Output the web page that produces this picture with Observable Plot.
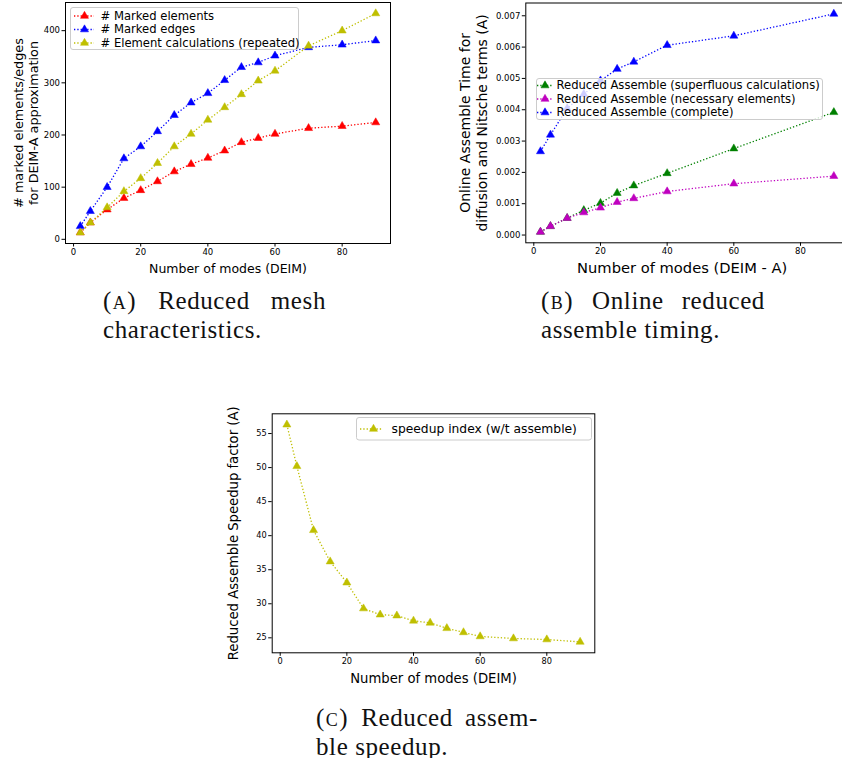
<!DOCTYPE html>
<html><head><meta charset="utf-8">
<script src="https://cdn.jsdelivr.net/npm/d3@7"></script>
<script src="https://cdn.jsdelivr.net/npm/@observablehq/plot@0.6"></script>
<style>
html,body{margin:0;padding:0;background:#fff;width:842px;height:758px;overflow:hidden;position:relative;}
.cap{position:absolute;font-family:"Liberation Serif",serif;font-size:25px;letter-spacing:0.6px;color:#111;line-height:29px;}
.cap .j{white-space:nowrap;display:flex;justify-content:space-between;}
.sc{font-variant:small-caps;letter-spacing:1.5px;}
</style></head><body>
<script>
// ---------------- data ----------------
const modesA = [2,5,10,15,20,25,30,35,40,45,50,55,60,70,80,90];
const markedElements = [13,32,57,79,94,111,130,144,156,170,186,194,202,213,217,224];
const markedEdges    = [25,54,100,155,178,207,238,262,280,305,330,339,352,368,373,381];
const elementCalcs   = [13,32,61,92,117,146,178,202,229,253,278,304,323,371,400,433];

const modesB = [2,5,10,15,20,25,30,40,60,90];
const superfluous = [0.0001,0.00028,0.00054,0.00079,0.00102,0.00134,0.00158,0.00197,0.00276,0.00392];
const necessary   = [0.0001,0.00028,0.00054,0.00072,0.00087,0.00105,0.00117,0.00139,0.00164,0.00188];
const complete    = [0.00267,0.0032,0.00404,0.0045,0.00493,0.0053,0.00553,0.00606,0.00636,0.00706];

const modesC = [2,5,10,15,20,25,30,35,40,45,50,55,60,70,80,90];
const speedup = [56.3,50.2,40.8,36.2,33.1,29.3,28.4,28.26,27.5,27.2,26.4,25.8,25.2,24.9,24.75,24.4];

const xTicks = [0,20,40,60,80];
const yTicksA = [0,100,200,300,400];
const yTicksB = [0,0.001,0.002,0.003,0.004,0.005,0.006,0.007];
const yTicksC = [25,30,35,40,45,50,55];

const labelsA = ["# Marked elements", "# Marked edges", "# Element calculations (repeated)"];
const labelsB = ["Reduced Assemble (superfluous calculations)", "Reduced Assemble (necessary elements)", "Reduced Assemble (complete)"];
const labelsC = ["speedup index (w/t assemble)"];

const RED = "#ff0000", BLUE = "#0000ff", YEL = "#bfbf00", GRN = "#008000", MAG = "#bf00bf";
const FONT = "DejaVu Sans";
const dotted = {strokeWidth: 1.3, strokeDasharray: "1.3,2", strokeLinecap: "butt"};

// ---------------- helpers ----------------
function place(el, left, top) {
  el.style.position = "absolute";
  el.style.left = left + "px";
  el.style.top = top + "px";
  document.body.appendChild(el);
}

function seriesMarks(xs, ys, color) {
  const data = xs.map((x, i) => ({x, y: ys[i]}));
  return [
    Plot.line(data, {x: "x", y: "y", stroke: color, ...dotted}),
    Plot.dot(data, {x: "x", y: "y", symbol: "triangle", r: 3, fill: color, stroke: color, strokeWidth: 0.5})
  ];
}

function panel(o) {
  const svg = Plot.plot({
    width: o.width, height: o.height,
    marginLeft: o.ml, marginRight: o.mr, marginTop: o.mt, marginBottom: o.mb,
    x: {domain: [-2.4, 94.4]},
    y: {domain: o.yDomain},
    style: {fontFamily: FONT, fontSize: o.tickSize + "px", color: "#000", background: "transparent", overflow: "visible"},
    marks: [
      ...o.series.flatMap(s => seriesMarks(s.x, s.y, s.color)),
      Plot.frame({stroke: "#000", strokeWidth: 1}),
      Plot.axisX({ticks: xTicks, tickSize: 3.5, tickPadding: 2, label: null}),
      Plot.axisY({ticks: o.yTicks, tickSize: 3.5, tickPadding: 2, tickFormat: o.yFormat, label: null}),
      Plot.text([o.xLabel], {text: d => d, frameAnchor: "bottom", textAnchor: "middle", lineAnchor: "middle", dy: o.xLabelDy, dx: o.xLabelDx || 0, fontSize: o.xLabelSize}),
      ...o.yLabels.map(l => Plot.text([l.text], {text: d => d, frameAnchor: "left", rotate: -90, textAnchor: "middle", lineAnchor: "middle", dx: l.dx, fontSize: o.yLabelSize}))
    ]
  });
  place(svg, o.left, o.top);
}

function legendBox(o) {
  const w = o.w, h = o.h;
  const marks = [
    Plot.rect([0], {x1: () => 0.5, x2: () => w - 0.5, y1: () => 0.5, y2: () => h - 0.5, fill: "white", fillOpacity: 0.8, stroke: "#cccccc", rx: 2.5})
  ];
  o.rows.forEach(r => {
    marks.push(Plot.ruleY([r], {y: "y", x1: () => o.line[0], x2: () => o.line[1], stroke: r.color, ...dotted}));
    marks.push(Plot.dot([r], {x: () => o.markX, y: "y", symbol: "triangle", r: 3, fill: r.color, stroke: r.color, strokeWidth: 0.5}));
    marks.push(Plot.text([r], {x: () => o.textX, y: "y", text: "label", textAnchor: "start", lineAnchor: "middle", fontSize: o.fontSize}));
  });
  const svg = Plot.plot({
    width: w, height: h, margin: 0,
    x: {domain: [0, w], range: [0, w], axis: null},
    y: {domain: [0, h], range: [0, h], axis: null},
    style: {fontFamily: FONT, color: "#000", background: "transparent", overflow: "visible"},
    marks
  });
  place(svg, o.left, o.top);
}

function caption(left, top, width, line1, line2) {
  const d = document.createElement("div");
  d.className = "cap";
  d.style.left = left + "px";
  d.style.top = top + "px";
  d.style.width = width + "px";
  const l1 = document.createElement("div");
  l1.className = "j";
  line1.forEach(part => {
    const s = document.createElement("span");
    if (part.sc) { s.className = "sc"; }
    s.textContent = part.t;
    l1.appendChild(s);
  });
  const l2 = document.createElement("div");
  l2.textContent = line2;
  d.appendChild(l1); d.appendChild(l2);
  document.body.appendChild(d);
}

// ---------------- panel A ----------------
panel({
  left: 0, top: 0, width: 400, height: 280,
  ml: 65, mr: 10, mt: 2, mb: 37,
  yDomain: [-8, 454], yTicks: yTicksA, yFormat: d3.format("d"),
  tickSize: 8.5, xLabelSize: 12.5, yLabelSize: 12.8,
  series: [
    {x: modesA, y: markedElements, color: RED},
    {x: modesA, y: markedEdges, color: BLUE},
    {x: modesA, y: elementCalcs, color: YEL}
  ],
  xLabel: "Number of modes (DEIM)", xLabelDy: 25,
  yLabels: [{text: "# marked elements/edges", dx: -47}, {text: "for DEIM-A approximation", dx: -32}]
});
legendBox({
  left: 70, top: 6.5, w: 229, h: 43, fontSize: 11.6,
  line: [4, 24], markX: 14, textX: 30,
  rows: [
    {y: 8.5, color: RED, label: labelsA[0]},
    {y: 22, color: BLUE, label: labelsA[1]},
    {y: 35.5, color: YEL, label: labelsA[2]}
  ]
});

// ---------------- panel B ----------------
panel({
  left: 440, top: 0, width: 410, height: 280,
  ml: 85.3, mr: 2, mt: 2.5, mb: 37.7,
  yDomain: [-0.000248, 0.007408], yTicks: yTicksB, yFormat: d3.format(".3f"),
  tickSize: 8.5, xLabelSize: 14.7, yLabelSize: 14,
  series: [
    {x: modesB, y: superfluous, color: GRN},
    {x: modesB, y: necessary, color: MAG},
    {x: modesB, y: complete, color: BLUE}
  ],
  xLabel: "Number of modes (DEIM - A)", xLabelDy: 25, xLabelDx: -5,
  yLabels: [{text: "Online Assemble Time for", dx: -60.3}, {text: "diffusion and Nitsche terms (A)", dx: -43.6}]
});
legendBox({
  left: 536, top: 78, w: 287, h: 42, fontSize: 11.6,
  line: [1, 17], markX: 8.5, textX: 20,
  rows: [
    {y: 7, color: GRN, label: labelsB[0]},
    {y: 20.5, color: MAG, label: labelsB[1]},
    {y: 34, color: BLUE, label: labelsB[2]}
  ]
});

// ---------------- panel C ----------------
panel({
  left: 220, top: 400, width: 400, height: 290,
  ml: 51.7, mr: 25.7, mt: 13.3, mb: 37.7,
  yDomain: [22.8, 57.9], yTicks: yTicksC, yFormat: d3.format("d"),
  tickSize: 8.2, xLabelSize: 13.2, yLabelSize: 13.2,
  series: [
    {x: modesC, y: speedup, color: YEL}
  ],
  xLabel: "Number of modes (DEIM)", xLabelDy: 25.7,
  yLabels: [{text: "Reduced Assemble Speedup factor (A)", dx: -38.4}]
});
legendBox({
  left: 356, top: 416.5, w: 236, h: 23.5, fontSize: 12.3,
  line: [4, 27], markX: 17, textX: 35,
  rows: [
    {y: 11.5, color: YEL, label: labelsC[0]}
  ]
});

// ---------------- captions ----------------
caption(103, 286, 223, [{t: "(a)", sc: true}, {t: "Reduced"}, {t: "mesh"}], "characteristics.");
caption(541, 286, 224, [{t: "(b)", sc: true}, {t: "Online"}, {t: "reduced"}], "assemble timing.");
caption(316, 702.5, 222, [{t: "(c)", sc: true}, {t: "Reduced"}, {t: "assem-"}], "ble speedup.");
</script>
</body></html>
